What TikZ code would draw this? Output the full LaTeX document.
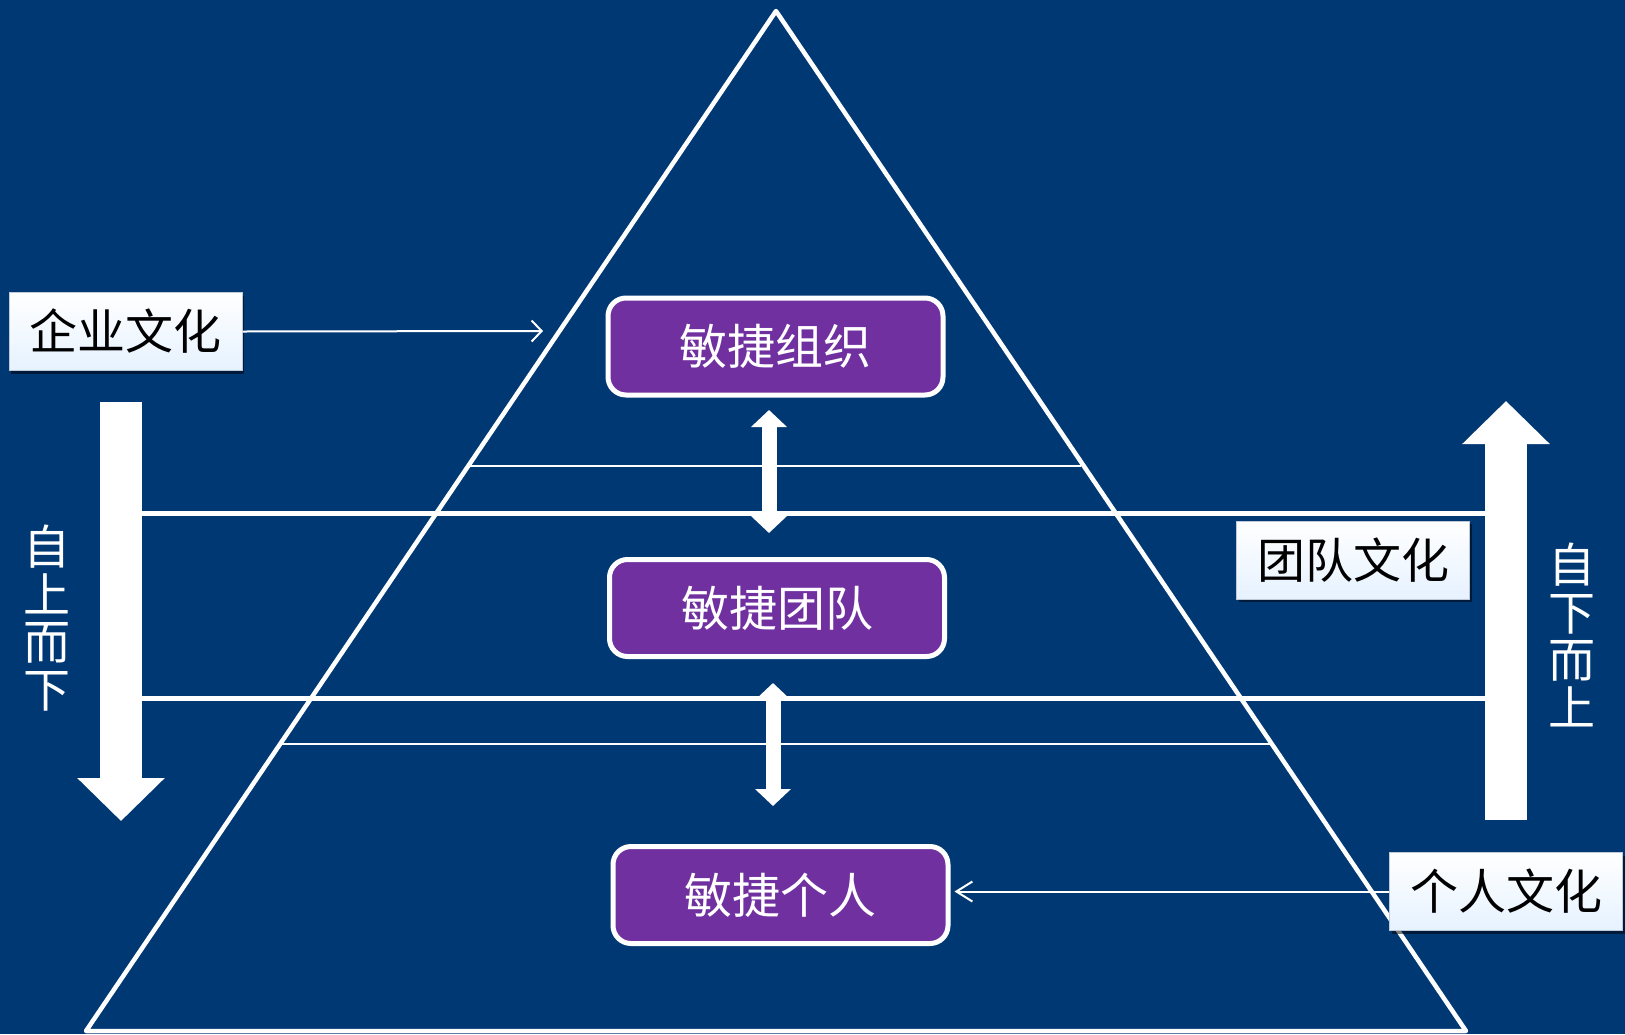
\documentclass[tikz,border=0pt]{standalone}
\usepackage{fontspec}
\newfontfamily\cjk{Noto Sans CJK SC}
\usetikzlibrary{arrows.meta,shadows,calc}
\definecolor{bgblue}{RGB}{0,56,115}
\definecolor{agile}{RGB}{112,48,160}
\definecolor{lblborder}{RGB}{190,200,215}
\definecolor{lbllow}{RGB}{230,242,255}
\begin{document}
\begin{tikzpicture}[x=1pt,y=-1pt,
  agilebox/.style={draw=white,line width=5pt,fill=agile,rounded corners=18pt,
    minimum width=335pt,minimum height=97pt,inner sep=0pt,text=white,
    font=\cjk\fontsize{48}{48}\selectfont},
  lblbox/.style={draw=lblborder,line width=1pt,top color=white,bottom color=lbllow,
    minimum height=78pt,minimum width=233pt,inner sep=0pt,text=black,
    drop shadow={shadow xshift=2pt,shadow yshift=-3pt,opacity=0.5,fill=black},
    font=\cjk\fontsize{48}{48}\selectfont},
  vtext/.style={text=white,align=center,inner sep=0pt,
    font=\cjk\fontsize{47}{47.5}\selectfont},
  edge/.style={draw=white,line width=4.5pt,line join=round},
  thinline/.style={draw=white,line width=2pt},
  thickline/.style={draw=white,line width=5pt},
  blockarrow/.style={draw=white,line width=42pt,-{Triangle[width=85pt,length=43pt]}},
  dblarrow/.style={draw=white,line width=15pt,{Triangle[width=35pt,length=17pt]}-{Triangle[width=35pt,length=17pt]}},
  labelarrow/.style={draw=white,line width=2pt}
]
\fill[bgblue] (0,0) rectangle (1625,1034);
\useasboundingbox (0,0) rectangle (1625,1034);

% pyramid
\coordinate (apex) at (776,11);
\coordinate (bl) at (86,1031);
\coordinate (br) at (1466,1031);
\draw[edge] (apex) -- (bl) -- (br) -- cycle;

% layer lines
\coordinate (t1l) at (468,466); \coordinate (t1r) at (1081,466);
\coordinate (t2l) at (280,744); \coordinate (t2r) at (1271,744);
\draw[thinline] (t1l) -- (t1r);
\draw[thinline] (t2l) -- (t2r);
\coordinate (k1l) at (142,513); \coordinate (k1r) at (1485,513);
\coordinate (k2l) at (142,698); \coordinate (k2r) at (1485,698);
\draw[thickline] (k1l) -- (k1r);
\draw[thickline] (k2l) -- (k2r);

% block arrows
\coordinate (dnstart) at (121,402); \coordinate (dnend) at (121,821);
\coordinate (upstart) at (1506,820); \coordinate (upend) at (1506,401);
\draw[blockarrow] (dnstart) -- (dnend);
\draw[blockarrow] (upstart) -- (upend);

% agile boxes
\node[agilebox] (org) at (775.5,346.5) {敏捷组织};
\node[agilebox] (team) at (777,608) {敏捷团队};
\node[agilebox] (indiv) at (780.5,895) {敏捷个人};

% double arrows
\coordinate (d1a) at (769,410); \coordinate (d1b) at (769,533);
\coordinate (d2a) at (773,683); \coordinate (d2b) at (773,806);
\draw[dblarrow] (d1a) -- (d1b);
\draw[dblarrow] (d2a) -- (d2b);

% label boxes
\node[lblbox] (corp) at (125.5,331.5) {企业文化};
\node[lblbox] (teamlbl) at (1353,560) {团队文化};
\node[lblbox] (indivlbl) at (1506,891.5) {个人文化};

% label arrows
\coordinate (corpend) at (543,331);
\draw[labelarrow,-{Straight Barb[length=10pt,width=21pt]}] (corp.east) -- (corpend);
\draw[labelarrow,-{Straight Barb[length=16pt,width=20pt]},shorten >=4pt] (indivlbl.west) -- (indivlbl.west -| indiv.east);

% vertical texts
\node[vtext] (topdown) at (47,618) {自\\上\\而\\下};
\node[vtext] (bottomup) at (1572,635) {自\\下\\而\\上};
\end{tikzpicture}
\end{document}
